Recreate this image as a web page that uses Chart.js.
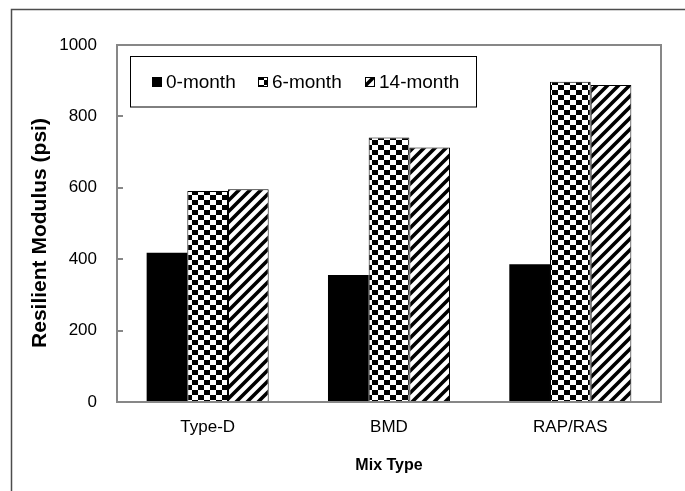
<!DOCTYPE html>
<html>
<head>
<meta charset="utf-8">
<script src="https://cdn.jsdelivr.net/npm/chart.js@4.4.1/dist/chart.umd.min.js"></script>
<style>
  html, body { margin: 0; padding: 0; background: #fff; }
</style>
</head>
<body>
<canvas id="chart_mr" width="685" height="491"></canvas>
<script>
// resilient modulus by mix type and curing age
const mixTypes = ["Type-D", "BMD", "RAP/RAS"];
const seriesLabels = ["0-month", "6-month", "14-month"];
const month0 = [418, 356, 386];
const month6 = [591, 741, 897];
const month14 = [596, 713, 888];
const yTitle = "Resilient Modulus (psi)";

const FONT = "'Liberation Sans', Arial, sans-serif";

function checkerPattern(ctx) {
  const c = document.createElement("canvas");
  c.width = 12;
  c.height = 10;
  const g = c.getContext("2d");
  g.fillStyle = "#fff";
  g.fillRect(0, 0, 12, 10);
  g.fillStyle = "#000";
  g.fillRect(0, 0, 6, 5);
  g.fillRect(6, 5, 6, 5);
  return ctx.createPattern(c, "repeat");
}

function stripePattern(ctx) {
  const s = 11;
  const c = document.createElement("canvas");
  c.width = s;
  c.height = s;
  const g = c.getContext("2d");
  g.fillStyle = "#fff";
  g.fillRect(0, 0, s, s);
  g.strokeStyle = "#000";
  g.lineWidth = 3.6;
  g.beginPath();
  g.moveTo(0, s); g.lineTo(s, 0);
  g.moveTo(-3, 3); g.lineTo(3, -3);
  g.moveTo(s - 3, s + 3); g.lineTo(s + 3, s - 3);
  g.stroke();
  return ctx.createPattern(c, "repeat");
}

const ctx = document.getElementById("chart_mr").getContext("2d");
const fills = ["#000", checkerPattern(ctx), stripePattern(ctx)];

// frame, inward ticks, y title and the boxed legend
const decorations = {
  id: "decorations",
  beforeDraw(chart) {
    const c = chart.ctx;
    c.save();
    c.fillStyle = "#fff";
    c.fillRect(0, 0, chart.width, chart.height);
    c.strokeStyle = "#4d4d4d";
    c.lineWidth = 1.5;
    c.beginPath();
    c.moveTo(11.5, chart.height);
    c.lineTo(11.5, 9.5);
    c.lineTo(chart.width, 9.5);
    c.stroke();

    c.translate(40, 233);
    c.rotate(-Math.PI / 2);
    c.font = "bold 21px " + FONT;
    c.fillStyle = "#000";
    c.textAlign = "center";
    c.textBaseline = "middle";
    c.fillText(yTitle, 0, 0);
    c.restore();
  },
  afterDatasetsDraw(chart) {
    const c = chart.ctx;
    const a = chart.chartArea;
    const y = chart.scales.y;
    c.save();
    c.strokeStyle = "#878787";
    c.lineWidth = 2;
    c.strokeRect(a.left, a.top, a.right - a.left, a.bottom - a.top);
    c.beginPath();
    y.ticks.forEach((t) => {
      const py = Math.round(y.getPixelForValue(t.value));
      c.moveTo(a.left, py);
      c.lineTo(a.left + 6, py);
    });
    c.stroke();

    // legend
    c.fillStyle = "#fff";
    c.fillRect(130.5, 56.5, 346, 50.5);
    c.strokeStyle = "#000";
    c.lineWidth = 1;
    c.strokeRect(130.5, 56.5, 346, 50.5);
    const iconX = [152, 258, 365];
    c.font = "19px " + FONT;
    c.textBaseline = "middle";
    chart.data.datasets.forEach((ds, i) => {
      c.fillStyle = ds.backgroundColor;
      c.fillRect(iconX[i], 77, 10, 10);
      c.strokeStyle = "#000";
      c.strokeRect(iconX[i] + 0.5, 77.5, 9, 9);
      c.fillStyle = "#000";
      c.fillText(ds.label, iconX[i] + 14, 82.5);
    });
    c.restore();
  },
};

const chart = new Chart(ctx, {
  type: "bar",
  data: {
    labels: mixTypes,
    datasets: [
      { label: seriesLabels[0], data: month0, backgroundColor: fills[0], borderWidth: 0 },
      { label: seriesLabels[1], data: month6, backgroundColor: fills[1], borderColor: "#000", borderWidth: 1 },
      { label: seriesLabels[2], data: month14, backgroundColor: fills[2], borderColor: "#000", borderWidth: 1 },
    ],
  },
  options: {
    responsive: false,
    animation: false,
    layout: { padding: { top: 45, right: 24, left: 0, bottom: 0 } },
    datasets: { bar: { barPercentage: 1, categoryPercentage: 0.673 } },
    plugins: {
      legend: { display: false },
      tooltip: { enabled: false },
    },
    scales: {
      x: {
        grid: { display: false, drawTicks: false },
        border: { display: false },
        ticks: { color: "#000", padding: 15, font: { family: FONT, size: 17 } },
        title: {
          display: true,
          text: "Mix Type",
          color: "#000",
          font: { family: FONT, size: 16, weight: "bold" },
          padding: { top: 0, bottom: 16 },
        },
        afterFit: (s) => { s.height = 89; },
      },
      y: {
        min: 0,
        max: 1000,
        grid: { display: false, drawTicks: false },
        border: { display: false },
        ticks: {
          stepSize: 200,
          color: "#000",
          padding: 20,
          font: { family: FONT, size: 17 },
          callback: (v) => String(v),
        },
        afterFit: (s) => { s.width = 117; },
      },
    },
  },
  plugins: [decorations],
});
</script>
</body>
</html>
